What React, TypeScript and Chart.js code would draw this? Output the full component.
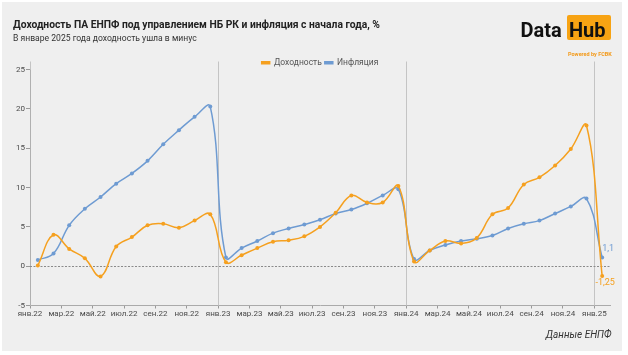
import React, { useEffect, useRef } from 'react';
import { Chart, registerables } from 'chart.js';

Chart.register(...registerables);

// ---------- data ----------
const MONTH_NAMES = ['янв', 'фев', 'мар', 'апр', 'май', 'июн', 'июл', 'авг', 'сен', 'окт', 'ноя', 'дек'];
const START_YEAR = 22; // 2022
// monthly observations, янв.22 … янв.25 (37 months)
const returns = [
  0.1, 4.0, 2.2, 1.0, -1.3, 2.5, 3.7, 5.2, 5.4, 4.9, 5.8, 6.6,
  0.5, 1.4, 2.3, 3.1, 3.3, 3.8, 5.0, 6.8, 9.0, 8.1, 8.1, 10.2,
  0.6, 2.0, 3.2, 2.9, 3.6, 6.6, 7.4, 10.4, 11.3, 12.8, 14.9, 17.9,
  -1.25,
];
const inflation = [
  0.8, 1.6, 5.2, 7.3, 8.8, 10.5, 11.8, 13.4, 15.5, 17.3, 19.0, 20.3,
  1.1, 2.3, 3.2, 4.2, 4.8, 5.3, 5.9, 6.7, 7.2, 8.0, 9.0, 9.8,
  0.9, 2.0, 2.7, 3.2, 3.5, 3.9, 4.8, 5.4, 5.8, 6.7, 7.6, 8.6,
  1.1,
];
const SERIES_LABELS = ['Доходность', 'Инфляция'];
const X_TICK_VALUES = [0, 2, 4, 6, 8, 10, 12, 14, 16, 18, 20, 22, 24, 26, 28, 30, 32, 34, 36];
const YEAR_STARTS = [0, 12, 24, 36];
const Y_MIN = -5;
const Y_MAX = 26.8;
const Y_TICK_TOP = 25;
const Y_STEP = 5;

const ORANGE = '#F5A01F';
const BLUE = '#6E9BD2';
const FONT = "Roboto, 'Noto Sans', 'DejaVu Sans', sans-serif";

const monthLabel = (v: number) => {
  const m = ((v % 12) + 12) % 12;
  const y = START_YEAR + Math.floor(v / 12);
  return `${MONTH_NAMES[m]}.${y}`;
};

const fmt = (v: number) => String(v).replace('.', ',');

const guidesPlugin = {
  id: 'guides',
  afterLayout(chart: any) {
    const lg = chart.legend;
    if (lg) {
      const h = lg.bottom - lg.top;
      lg.top = chart.chartArea.top;
      lg.bottom = lg.top + h;
      lg.left = chart.chartArea.left;
      lg.right = chart.chartArea.right;
      lg.width = lg.right - lg.left;
    }
  },
  beforeDatasetsDraw(chart: any) {
    const { ctx, chartArea, scales } = chart;
    const x = scales.x;
    const y = scales.y;
    ctx.save();
    // year separators
    ctx.strokeStyle = '#c4c4c4';
    ctx.lineWidth = 1;
    YEAR_STARTS.forEach((v) => {
      const px = Math.round(x.getPixelForValue(v)) + 0.5;
      ctx.beginPath();
      ctx.moveTo(px, chartArea.top + 6);
      ctx.lineTo(px, chartArea.bottom);
      ctx.stroke();
    });
    // y axis line from top tick down
    ctx.strokeStyle = '#b0b0b0';
    const ax = Math.round(chartArea.left) + 0.5;
    ctx.beginPath();
    ctx.moveTo(ax, y.getPixelForValue(Y_TICK_TOP));
    ctx.lineTo(ax, chartArea.bottom);
    ctx.stroke();
    // zero line
    const zy = Math.round(y.getPixelForValue(0)) + 0.5;
    ctx.strokeStyle = '#8a8a8a';
    ctx.setLineDash([2, 1.5]);
    ctx.beginPath();
    ctx.moveTo(chartArea.left, zy);
    ctx.lineTo(chartArea.right, zy);
    ctx.stroke();
    ctx.restore();
  },
  afterDatasetsDraw(chart: any) {
    const { ctx } = chart;
    ctx.save();
    ctx.font = `9px ${FONT}`;
    ctx.textBaseline = 'middle';
    chart.data.datasets.forEach((ds: any, i: number) => {
      const meta = chart.getDatasetMeta(i);
      const pt = meta.data[meta.data.length - 1];
      const val = ds.data[ds.data.length - 1].y;
      ctx.fillStyle = ds.borderColor;
      if (val < 0) {
        ctx.textAlign = 'center';
        ctx.fillText(fmt(val), pt.x + 3, pt.y + 7);
      } else {
        ctx.textAlign = 'left';
        ctx.fillText(fmt(val), pt.x, pt.y - 9);
      }
    });
    ctx.restore();
  },
};

export default function App() {
  const ref = useRef<HTMLCanvasElement | null>(null);

  useEffect(() => {
    document.body.style.margin = '0';
    const canvas = ref.current;
    if (!canvas) return;
    Chart.defaults.font.family = FONT;
    const toPts = (arr: number[]) => arr.map((v, i) => ({ x: i + 0.5, y: v }));
    const chart = new Chart(canvas, {
      type: 'line',
      data: {
        datasets: [
          {
            label: SERIES_LABELS[0],
            data: toPts(returns),
            borderColor: ORANGE,
            backgroundColor: ORANGE,
            borderWidth: 1.5,
            pointRadius: 2,
            pointBorderWidth: 0,
            pointBackgroundColor: ORANGE,
            tension: 0.4,
          },
          {
            label: SERIES_LABELS[1],
            data: toPts(inflation),
            borderColor: BLUE,
            backgroundColor: BLUE,
            borderWidth: 1.5,
            pointRadius: 2,
            pointBorderWidth: 0,
            pointBackgroundColor: BLUE,
            tension: 0.4,
          },
        ],
      },
      options: {
        responsive: false,
        animation: false,
        events: [],
        layout: { padding: { left: 0, right: 18, top: 34, bottom: 29.5 } },
        plugins: {
          legend: {
            position: 'top',
            align: 'center',
            labels: {
              boxWidth: 8,
              boxHeight: 2,
              padding: 3,
              color: '#555',
              font: { size: 8.5, family: FONT },
            },
          },
          tooltip: { enabled: false },
        },
        scales: {
          x: {
            type: 'linear',
            min: 0,
            max: 37,
            afterBuildTicks: (s: any) => {
              s.ticks = X_TICK_VALUES.map((v) => ({ value: v }));
            },
            afterFit: (s: any) => {
              s.height = 20;
            },
            ticks: {
              autoSkip: false,
              maxRotation: 0,
              minRotation: 0,
              padding: 1,
              color: '#4a4a4a',
              font: { size: 8, family: FONT },
              callback: (v: any) => monthLabel(Number(v)),
            },
            grid: { drawOnChartArea: false, tickLength: 3, color: '#999' },
            border: { display: true, color: '#aaa' },
          },
          y: {
            type: 'linear',
            min: Y_MIN,
            max: Y_MAX,
            afterBuildTicks: (s: any) => {
              s.ticks = s.ticks.filter((t: any) => t.value <= Y_TICK_TOP && t.value % Y_STEP === 0);
            },
            afterFit: (s: any) => {
              s.width = 30;
            },
            ticks: {
              stepSize: Y_STEP,
              padding: 1,
              color: '#4a4a4a',
              font: { size: 8, family: FONT },
            },
            grid: { drawOnChartArea: false, tickLength: 4, color: '#999' },
            border: { display: false },
          },
        },
      },
      plugins: [guidesPlugin],
    } as any);
    return () => chart.destroy();
  }, []);

  return (
    <div style={{ position: 'relative', width: 628, height: 355, background: '#ffffff', overflow: 'hidden', fontFamily: FONT }}>
      <div style={{ position: 'absolute', left: 2, top: 2, width: 620, height: 349, background: '#efefef' }} />
      <canvas ref={ref} width={628} height={355} style={{ position: 'absolute', left: 0, top: 0, width: 628, height: 355 }} />
      <div style={{ position: 'absolute', left: 13, top: 19.5, fontSize: 10.3, lineHeight: '10.3px', fontWeight: 700, color: '#222', whiteSpace: 'nowrap' }}>
        Доходность ПА ЕНПФ под управлением НБ РК и инфляция с начала года, %
      </div>
      <div style={{ position: 'absolute', left: 13, top: 33.5, fontSize: 8.6, lineHeight: '8.6px', color: '#333', whiteSpace: 'nowrap' }}>
        В январе 2025 года доходность ушла в минус
      </div>
      <div style={{ position: 'absolute', left: 520.5, top: 20, fontSize: 20, lineHeight: '20px', fontWeight: 700, color: '#111', whiteSpace: 'nowrap' }}>
        Data
      </div>
      <div style={{ position: 'absolute', left: 566.5, top: 15, width: 44, height: 25, background: '#F7A313', borderRadius: 2 }}>
        <div style={{ position: 'absolute', left: 2.5, top: 5, fontSize: 20, lineHeight: '20px', fontWeight: 700, color: '#111', whiteSpace: 'nowrap' }}>
          Hub
        </div>
      </div>
      <div style={{ position: 'absolute', left: 568, top: 51.5, fontSize: 5.5, lineHeight: '5.5px', fontWeight: 700, color: '#F39A1A', whiteSpace: 'nowrap' }}>
        Powered by FCBK
      </div>
      <div style={{ position: 'absolute', right: 16.5, top: 330, fontSize: 10, lineHeight: '10px', fontStyle: 'italic', color: '#333', whiteSpace: 'nowrap' }}>
        Данные ЕНПФ
      </div>
    </div>
  );
}
